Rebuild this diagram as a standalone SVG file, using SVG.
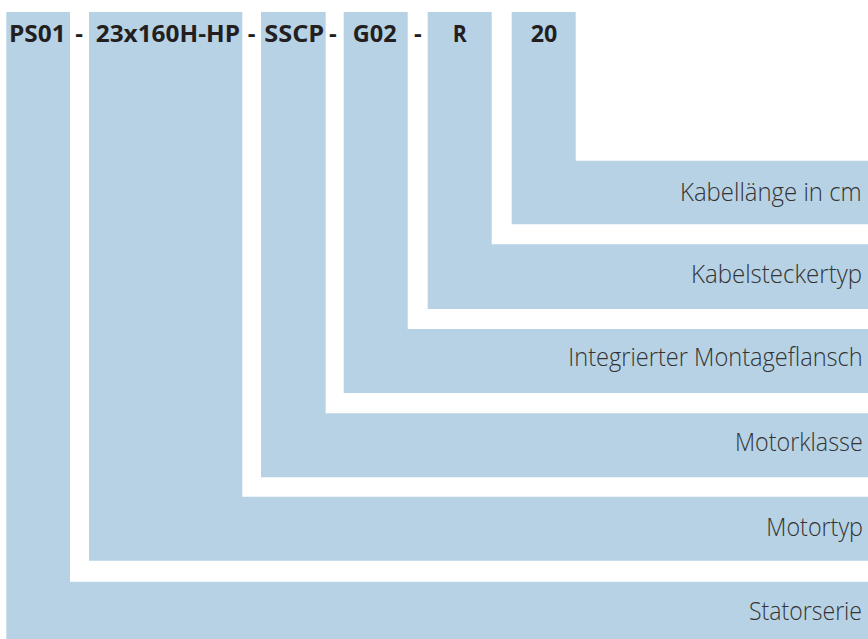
<svg xmlns="http://www.w3.org/2000/svg" width="868" height="639" viewBox="0 0 868 639">
<style>
.band{fill:#b7d2e5;}
.code{font-family:"Open Sans","Liberation Sans",sans-serif;font-weight:700;font-size:24px;fill:#231f20;}
.lbl{font-family:"Open Sans","Liberation Sans",sans-serif;font-weight:300;font-size:25px;fill:#333333;text-anchor:end;}
</style>
<rect width="868" height="639" fill="#ffffff"/>
<g id="statorserie">
<path class="band" d="M6.3,12 H70 V581.7 H868 V639 H6.3 Z"/>
<text class="code" x="9" y="42.3" textLength="56.7" lengthAdjust="spacingAndGlyphs">PS01</text>
<text class="lbl" x="862" y="620" textLength="113" lengthAdjust="spacingAndGlyphs">Statorserie</text>
</g>
<g id="motortyp">
<path class="band" d="M89,12 H242.3 V496.7 H868 V560.7 H89 Z"/>
<text class="code" x="95.7" y="42.3" textLength="144.3" lengthAdjust="spacingAndGlyphs">23x160H-HP</text>
<text class="lbl" x="863" y="535.7" textLength="96.7" lengthAdjust="spacingAndGlyphs">Motortyp</text>
</g>
<g id="motorklasse">
<path class="band" d="M261,12 H325.7 V413.3 H868 V477.3 H261 Z"/>
<text class="code" x="264.3" y="42.3" textLength="60" lengthAdjust="spacingAndGlyphs">SSCP</text>
<text class="lbl" x="862.7" y="450.7" textLength="127.7" lengthAdjust="spacingAndGlyphs">Motorklasse</text>
</g>
<g id="montageflansch">
<path class="band" d="M343.7,12 H407.7 V329 H868 V393 H343.7 Z"/>
<text class="code" x="352.7" y="42.3" textLength="44" lengthAdjust="spacingAndGlyphs">G02</text>
<text class="lbl" x="862.7" y="366" textLength="294.4" lengthAdjust="spacingAndGlyphs">Integrierter Montageflansch</text>
</g>
<g id="kabelsteckertyp">
<path class="band" d="M427.7,12 H491.7 V244.3 H868 V309 H427.7 Z"/>
<text class="code" x="452.7" y="42.3" textLength="14" lengthAdjust="spacingAndGlyphs">R</text>
<text class="lbl" x="862" y="283" textLength="171" lengthAdjust="spacingAndGlyphs">Kabelsteckertyp</text>
</g>
<g id="kabellaenge">
<path class="band" d="M511.7,12 H575.7 V160.7 H868 V224.3 H511.7 Z"/>
<text class="code" x="530.7" y="42.3" textLength="26.6" lengthAdjust="spacingAndGlyphs">20</text>
<text class="lbl" x="861.7" y="201" textLength="181.7" lengthAdjust="spacingAndGlyphs">Kabellänge in cm</text>
</g>
<g id="separators">
<text class="code" x="79" y="42.3" text-anchor="middle">-</text>
<text class="code" x="251.7" y="42.3" text-anchor="middle">-</text>
<text class="code" x="332.8" y="42.3" text-anchor="middle">-</text>
<text class="code" x="417.8" y="42.3" text-anchor="middle">-</text>
</g>
</svg>
